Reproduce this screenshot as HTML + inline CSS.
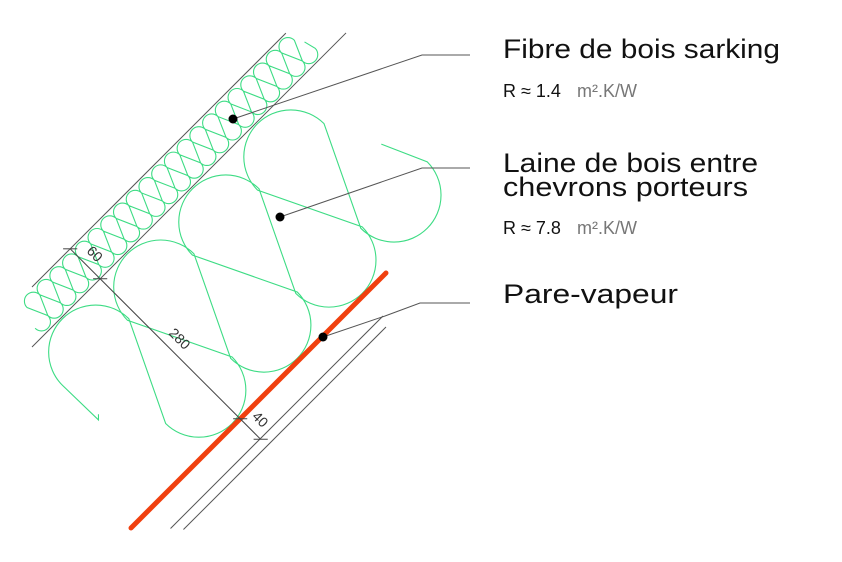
<!DOCTYPE html>
<html><head><meta charset="utf-8"><style>
html,body{margin:0;padding:0;background:#fff;}
svg{display:block;}
text{font-family:"Liberation Sans",sans-serif;}
</style></head><body>
<svg id="s" width="842" height="562" viewBox="0 0 842 562" xmlns="http://www.w3.org/2000/svg">
<g transform="translate(32,287) rotate(-45)" fill="none">
  <line x1="0" y1="0" x2="359" y2="0" stroke="#555" stroke-width="1"/>
  <line x1="-42.4" y1="42.4" x2="401.7" y2="42.4" stroke="#555" stroke-width="1"/>
  <line x1="-72.8" y1="268.7" x2="227.7" y2="268.7" stroke="#555" stroke-width="1"/>
  <line x1="-64.4" y1="278.6" x2="222" y2="278.6" stroke="#555" stroke-width="1"/>
  <path id="sark" stroke="#3ddc84" stroke-width="1.1"/>
  <path id="laine" stroke="#3ddc84" stroke-width="1.1"/>
  <line x1="-100.4" y1="240.4" x2="260.2" y2="240.4" stroke="#f0400f" stroke-width="5" stroke-linecap="round"/>
  <line x1="54" y1="0" x2="54" y2="269.4" stroke="#444" stroke-width="1"/>
  <g stroke="#444" stroke-width="1">
    <line x1="49" y1="-5" x2="59" y2="5"/><line x1="49" y1="37.4" x2="59" y2="47.4"/>
    <line x1="49" y1="235.4" x2="59" y2="245.4"/><line x1="49" y1="264.4" x2="59" y2="274.4"/>
  </g>
  <g fill="#333" font-size="14" text-anchor="middle" stroke="none">
    <text transform="translate(63,21) rotate(90)" font-family="Liberation Sans, sans-serif">60</text>
    <text transform="translate(63,141) rotate(90)" font-family="Liberation Sans, sans-serif">280</text>
    <text transform="translate(63,255) rotate(90)" font-family="Liberation Sans, sans-serif">40</text>
  </g>
</g>
<g fill="none" stroke="#555" stroke-width="1">
  <polyline points="233,119 422,55 470,55"/>
  <polyline points="280,217 422,168 470,168"/>
  <polyline points="323,337 385,316 420,303 470,303"/>
</g>
<circle cx="233" cy="119" r="4.5" fill="#000"/>
<circle cx="280" cy="217" r="4.5" fill="#000"/>
<circle cx="323" cy="337" r="4.5" fill="#000"/>
<text x="503" y="58" font-size="27" fill="#111" textLength="277" lengthAdjust="spacingAndGlyphs">Fibre de bois sarking</text>
<text x="503" y="97" font-size="18" fill="#111">R ≈ 1.4</text>
<text x="577" y="97" font-size="18" fill="#777">m².K/W</text>
<text x="503" y="172" font-size="27" fill="#111" textLength="255" lengthAdjust="spacingAndGlyphs">Laine de bois entre</text>
<text x="503" y="196" font-size="27" fill="#111" textLength="245" lengthAdjust="spacingAndGlyphs">chevrons porteurs</text>
<text x="503" y="234" font-size="18" fill="#111">R ≈ 7.8</text>
<text x="577" y="234" font-size="18" fill="#777">m².K/W</text>
<text x="503" y="303" font-size="27" fill="#111" textLength="175" lengthAdjust="spacingAndGlyphs">Pare-vapeur</text>
</svg>
<script>
function gen(uStart,uEnd,d,r,vt,vb,hook,tail){
  var p="",c=uStart,top=false,first=true;
  while(c>=uEnd){
    var v=top?vt:vb;
    var sx=c+r,ex=c-r;
    if(first){p+="M"+(sx+hook[0])+","+(v+hook[1])+" L"+sx+","+v;first=false;}
    else p+=" L"+sx+","+v;
    p+=" A"+r+","+r+" 0 0 "+(top?0:1)+" "+ex+","+v;
    c-=d;top=!top;
  }
  return p+(tail||"");
}
document.getElementById("laine").setAttribute("d",gen(321,-30,46,47,91,191,[-20,-45]," L-47,141 L-43,137"));
document.getElementById("sark").setAttribute("d",gen(360,-20,9,9,11,31.4,[-3,-12]));
</script>
</body></html>
